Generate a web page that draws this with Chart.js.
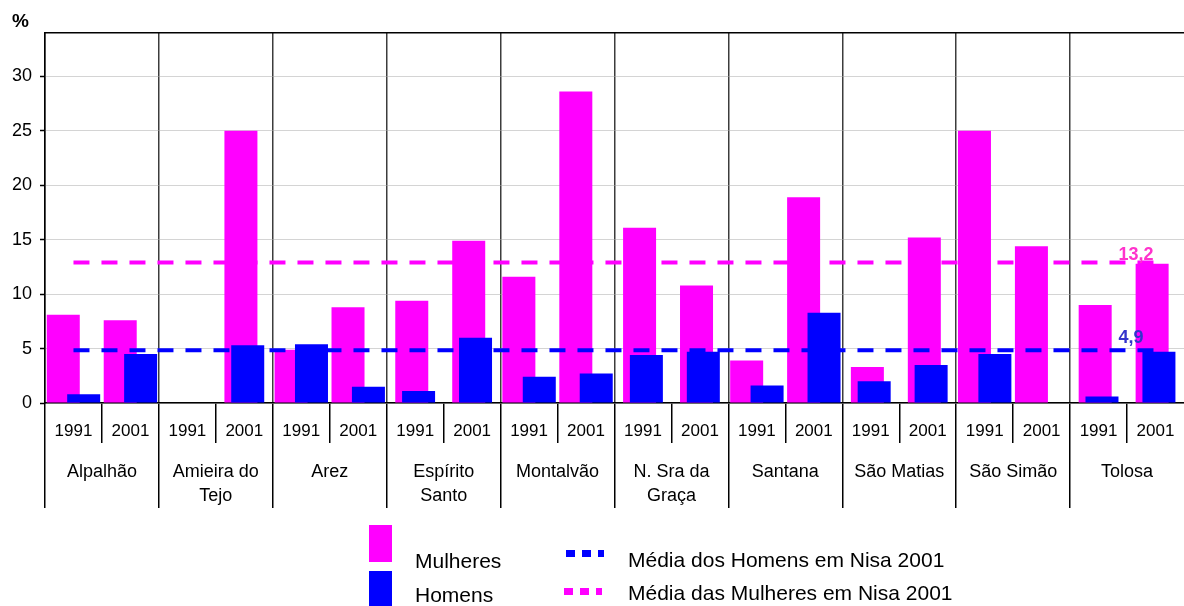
<!DOCTYPE html>
<html>
<head>
<meta charset="utf-8">
<script src="https://cdn.jsdelivr.net/npm/chart.js@4/dist/chart.umd.min.js"></script>
<style>
  body { margin: 0; background: #fff; }
  #wrap { position: relative; width: 1184px; height: 606px; overflow: hidden; font-family: "Liberation Sans", Arial, sans-serif; }
  .key { position: absolute; }
  .txt { position: absolute; font-size: 21px; line-height: 24px; color: #000; white-space: nowrap; }
</style>
</head>
<body>
<div id="wrap">
  <canvas id="myChart"></canvas>
  <div id="legend"></div>
</div>
<script>
"use strict";

let villages = ['Alpalhão', ['Amieira do', 'Tejo'], 'Arez', ['Espírito', 'Santo'], 'Montalvão',
                ['N. Sra da', 'Graça'], 'Santana', 'São Matias', 'São Simão', 'Tolosa'];
let years = ['1991', '2001', '1991', '2001', '1991', '2001', '1991', '2001', '1991', '2001',
             '1991', '2001', '1991', '2001', '1991', '2001', '1991', '2001', '1991', '2001'];

let mulheres = [8.1, 7.6, 0, 25.0, 4.9, 8.8, 9.4, 14.9, 11.6, 28.6, 16.1, 10.8, 3.9, 18.9, 3.3, 15.2, 25.0, 14.4, 9.0, 12.8];
let homens = [0.8, 4.5, 0, 5.3, 5.4, 1.5, 1.1, 6.0, 2.4, 2.7, 4.4, 4.7, 1.6, 8.3, 2.0, 3.5, 4.5, 0, 0.6, 4.7];

// averages for Nisa 2001, as drawn, and the text printed next to them
let mediaHomens = 4.85;
let mediaMulheres = 12.9;
let mediaLabels = ['4,9', '13,2'];

let seriesNames = ['Mulheres', 'Homens', 'Média dos Homens em Nisa 2001', 'Média das Mulheres em Nisa 2001'];

const pink = '#FF00FF';
const blue = '#0000FF';

// the original sheet alternates the bar pairs between two series sets,
// so every other village gets a tighter pink/blue overlap
function pickGroups(values, parity){
    return values.map((v, i) => (Math.floor(i / 2) % 2 === parity) ? v : null);
}

function barSet(label, values, parity, color){
    return {
        label: label,
        data: pickGroups(values, parity),
        backgroundColor: color,
        borderWidth: 0,
        categoryPercentage: 0.478,
        barPercentage: 4.85
    };
}

function meanLine(label, value, color, text, textColor, lift){
    return {
        type: 'line',
        label: label,
        data: years.map(() => value),
        borderColor: color,
        borderWidth: 4,
        borderDash: [16, 12],
        borderCapStyle: 'butt',
        pointRadius: 0,
        fill: false,
        endLabel: text,
        endLabelColor: textColor,
        endLabelLift: lift
    };
}

// no closing separator on the far right, like the original
function sepColor(color){
    return c => (c.type === 'tick' ? color : 'rgba(0,0,0,0)');
}

// draw datasets first-to-last so the blue bars sit on top of the pink ones
const drawForward = {
    id: 'drawForward',
    beforeDatasetsDraw(chart){
        chart.getSortedVisibleDatasetMetas().forEach(meta => meta.controller.draw());
        return false;
    }
};

const meanLabels = {
    id: 'meanLabels',
    afterDraw(chart){
        let ctx = chart.ctx;
        ctx.save();
        ctx.font = 'bold 18px "Liberation Sans", Arial, sans-serif';
        ctx.textAlign = 'left';
        ctx.textBaseline = 'alphabetic';
        chart.data.datasets.forEach((ds, i) => {
            if (!ds.endLabel) return;
            let pts = chart.getDatasetMeta(i).data;
            let last = pts[pts.length - 1];
            ctx.fillStyle = ds.endLabelColor;
            ctx.fillText(ds.endLabel, last.x - 37, last.y - ds.endLabelLift);
        });
        ctx.restore();
    }
};

Chart.defaults.font.family = '"Liberation Sans", Arial, sans-serif';
Chart.defaults.color = '#000';

const ctx = document.getElementById('myChart').getContext('2d');
const myChart = new Chart(ctx, {
    type: 'bar',
    data: {
        labels: years,
        datasets: [
            barSet(seriesNames[0], mulheres, 0, pink),
            barSet(seriesNames[0], mulheres, 1, pink),
            barSet(seriesNames[1], homens, 1, blue),
            barSet(seriesNames[1], homens, 0, blue),
            meanLine(seriesNames[2], mediaHomens, blue, mediaLabels[0], '#3333CC', 7),
            meanLine(seriesNames[3], mediaMulheres, pink, mediaLabels[1], '#FF33CC', 3)
        ]
    },
    options: {
        responsive: true,
        maintainAspectRatio: false,
        animation: false,
        devicePixelRatio: 1,
        layout: { padding: { left: 12, right: 0, top: 0, bottom: 98 } },
        plugins: {
            legend: { display: false },
            tooltip: { enabled: false },
            title: {
                display: true,
                text: '%',
                align: 'start',
                color: '#000',
                font: { size: 19, weight: 'bold' },
                padding: { top: 10, bottom: 0 }
            }
        },
        scales: {
            x: {
                position: 'bottom',
                afterFit: s => { s.height = 40; },
                grid: { drawOnChartArea: false, color: sepColor('#000'), tickColor: sepColor('#000'), lineWidth: 1.5, tickLength: 40 },
                border: { color: '#000', width: 1.5 },
                ticks: { autoSkip: false, maxRotation: 0, padding: -22, font: { size: 17 } }
            },
            x2: {
                type: 'category',
                position: 'bottom',
                labels: villages,
                afterFit: s => { s.height = 65; },
                grid: { color: sepColor('#3c3c3c'), tickColor: sepColor('#000'), lineWidth: 1.5, tickLength: 65 },
                border: { display: false },
                ticks: { autoSkip: false, maxRotation: 0, padding: -48, font: { size: 18, lineHeight: '24px' } }
            },
            xTop: {
                type: 'category',
                position: 'top',
                grid: { display: false, drawTicks: false },
                ticks: { display: false },
                border: { color: '#000', width: 1.5 }
            },
            y: {
                min: 0,
                max: 34,
                afterFit: s => { s.width = 33; },
                ticks: { stepSize: 5, includeBounds: false, padding: 8, font: { size: 18 } },
                grid: { color: '#a8a8a8', lineWidth: 1, tickColor: '#000', tickWidth: 1.5, tickLength: 5 },
                border: { color: '#000', width: 1.5, dash: [1, 1] }
            }
        }
    },
    plugins: [drawForward, meanLabels]
});

// legend laid out like the original: boxes on the left, dashed keys on the right
let legend = document.getElementById('legend');
function addEl(cls, style, text){
    let el = document.createElement('div');
    el.className = cls;
    el.style.cssText = style;
    if (text) el.textContent = text;
    legend.append(el);
}
addEl('key', 'left:369px;top:525px;width:23px;height:37px;background:' + pink);
addEl('key', 'left:369px;top:571px;width:23px;height:37px;background:' + blue);
addEl('txt', 'left:415px;top:549px', seriesNames[0]);
addEl('txt', 'left:415px;top:583px', seriesNames[1]);
addEl('key', 'left:566px;top:550px;width:38px;height:7px;background:repeating-linear-gradient(90deg,' + blue + ' 0 9px,transparent 9px 16px)');
addEl('key', 'left:564px;top:588px;width:38px;height:7px;background:repeating-linear-gradient(90deg,' + pink + ' 0 9px,transparent 9px 16px)');
addEl('txt', 'left:628px;top:548px', seriesNames[2]);
addEl('txt', 'left:628px;top:581px', seriesNames[3]);
</script>
</body>
</html>
